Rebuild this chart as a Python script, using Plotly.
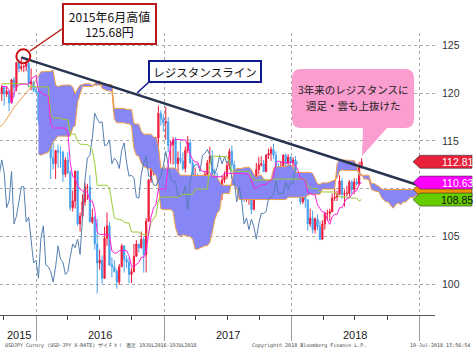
import pandas as pd
import plotly.graph_objects as go

# ---------------- data (USD/JPY weekly) ----------------
candle_start = "2015-09-25"  # first weekly bar (week ending Friday)
opens = [120.0, 120.6, 119.9, 120.2, 119.0, 121.4, 120.6, 123.2, 122.6, 122.8, 122.8, 123.1, 121.0, 121.2, 120.3,
         120.2, 117.2, 117.0, 118.8, 121.1, 116.8, 113.2, 112.6, 114.0, 113.8, 113.8, 111.5, 113.0, 111.7, 108.0,
         108.7, 111.8, 106.3, 107.1, 108.6, 110.2, 110.2, 106.5, 107.0, 104.2, 102.2, 102.5, 100.6, 104.8, 106.1,
         102.0, 101.8, 101.3, 100.2, 101.8, 104.0, 102.6, 102.3, 101.0, 101.3, 102.9, 104.2, 103.8, 104.7, 103.1,
         106.6, 110.9, 113.2, 113.5, 115.3, 117.9, 117.3,
         116.9, 117.0, 114.5, 114.6, 115.1, 112.6, 113.2, 112.9, 112.1, 114.0, 114.8, 112.7, 111.3, 111.4, 111.1,
         109.1, 109.0, 111.5, 112.7, 113.4, 111.3, 111.3, 110.4, 110.3, 110.9, 111.3, 112.4, 113.9, 112.5, 111.1,
         110.7, 110.7, 109.2, 109.2, 109.4, 110.3, 107.8, 110.8, 112.0, 112.5, 112.6, 111.8, 113.5, 113.7, 114.1,
         113.5, 112.1, 111.5, 112.2, 113.5, 112.6, 113.3,
         112.7, 113.0, 111.0, 110.8, 108.6, 110.2, 108.8, 106.3, 106.9, 105.7, 106.8, 106.0, 104.7, 106.3, 107.4,
         107.4, 107.6, 109.0, 109.1, 109.4, 110.8, 109.4, 109.5, 109.5, 110.7, 109.9, 110.7, 110.5, 112.4]
highs = [120.9, 120.6, 120.7, 120.3, 121.5, 121.7, 123.3, 123.6, 123.8, 123.0, 123.7, 123.3, 122.6, 121.3, 120.7,
         120.4, 118.3, 118.9, 121.7, 121.1, 117.7, 114.9, 114.0, 114.6, 114.4, 114.0, 113.3, 113.8, 111.9, 109.8,
         111.9, 111.9, 107.5, 109.4, 110.6, 110.5, 111.4, 107.9, 107.1, 106.8, 103.6, 103.0, 106.0, 107.5, 106.5,
         102.8, 102.5, 101.6, 102.1, 104.2, 104.0, 103.0, 102.8, 101.7, 104.2, 104.6, 104.2, 105.5, 105.0, 106.9,
         111.0, 113.9, 114.8, 115.4, 118.7, 118.2, 117.8,
         118.6, 117.5, 115.0, 115.4, 115.4, 113.9, 114.9, 113.8, 114.4, 115.5, 115.2, 113.0, 112.2, 111.6, 111.3,
         109.6, 111.8, 113.0, 114.4, 114.0, 112.1, 111.7, 110.7, 111.4, 111.8, 112.9, 114.2, 114.5, 112.9, 111.9,
         111.0, 110.9, 110.9, 109.8, 110.7, 110.3, 111.0, 112.7, 113.3, 113.4, 113.0, 113.6, 114.2, 114.4, 114.7,
         113.9, 112.7, 112.9, 113.6, 113.7, 113.6, 113.4,
         113.3, 113.4, 111.3, 111.2, 110.5, 110.5, 108.9, 107.9, 107.7, 107.0, 107.3, 106.6, 106.7, 107.5, 107.8,
         107.9, 109.5, 110.0, 109.8, 111.4, 111.1, 109.9, 110.3, 110.9, 110.9, 111.1, 111.1, 112.8, 113.2]
lows = [119.2, 118.7, 119.6, 118.1, 119.0, 119.6, 120.2, 122.2, 122.3, 122.2, 122.3, 120.6, 120.3, 120.1, 119.9,
        116.7, 116.5, 116.0, 118.2, 116.5, 111.0, 112.0, 111.0, 112.2, 112.2, 110.7, 111.2, 111.5, 107.7, 107.6,
        107.9, 106.1, 105.5, 106.9, 108.2, 108.8, 106.5, 106.3, 103.6, 99.0, 101.5, 100.0, 100.6, 104.0, 101.9,
        100.7, 101.2, 99.5, 99.9, 101.8, 101.2, 101.7, 100.1, 100.1, 101.2, 102.9, 103.3, 103.7, 101.2, 101.2,
        106.5, 110.6, 111.4, 112.9, 113.9, 116.6, 116.0,
        115.1, 113.8, 112.6, 112.5, 111.6, 111.6, 112.6, 111.9, 111.7, 113.7, 112.6, 110.6, 110.1, 110.1, 108.7,
        108.1, 109.0, 111.0, 112.6, 110.2, 110.8, 110.3, 109.1, 108.8, 110.6, 111.0, 112.0, 112.1, 110.9, 110.6,
        109.9, 108.7, 108.6, 108.6, 108.3, 107.3, 107.8, 110.7, 111.5, 112.3, 111.7, 111.7, 113.1, 112.9, 113.1,
        111.9, 111.1, 110.8, 112.0, 112.0, 112.6, 112.5,
        112.1, 110.9, 110.2, 108.3, 108.4, 108.0, 105.6, 106.0, 105.3, 105.3, 105.6, 104.6, 104.6, 105.7, 106.6,
        106.6, 107.5, 108.7, 108.7, 109.3, 108.9, 108.1, 109.2, 109.2, 109.4, 109.4, 110.3, 110.3, 112.1]
closes = [120.6, 119.9, 120.2, 119.0, 121.4, 120.6, 123.2, 122.6, 122.8, 122.8, 123.1, 121.0, 121.2, 120.3, 120.2,
          117.2, 117.0, 118.8, 121.1, 116.8, 113.2, 112.6, 114.0, 113.8, 113.8, 111.5, 113.0, 111.7, 108.0, 108.7,
          111.8, 106.3, 107.1, 108.6, 110.2, 110.2, 106.5, 107.0, 104.2, 102.2, 102.5, 100.6, 104.8, 106.1, 102.0,
          101.8, 101.3, 100.2, 101.8, 104.0, 102.6, 102.3, 101.0, 101.3, 102.9, 104.2, 103.8, 104.7, 103.1, 106.6,
          110.9, 113.2, 113.5, 115.3, 117.9, 117.3, 116.9,
          117.0, 114.5, 114.6, 115.1, 112.6, 113.2, 112.9, 112.1, 114.0, 114.8, 112.7, 111.3, 111.4, 111.1, 109.1,
          109.0, 111.5, 112.7, 113.4, 111.3, 111.3, 110.4, 110.3, 110.9, 111.3, 112.4, 113.9, 112.5, 111.1, 110.7,
          110.7, 109.2, 109.2, 109.4, 110.3, 107.8, 110.8, 112.0, 112.5, 112.6, 111.8, 113.5, 113.7, 114.1, 113.5,
          112.1, 111.5, 112.2, 113.5, 112.6, 113.3, 112.7,
          113.0, 111.0, 110.8, 108.6, 110.2, 108.8, 106.3, 106.9, 105.7, 106.8, 106.0, 104.7, 106.3, 107.4, 107.4,
          107.6, 109.0, 109.1, 109.4, 110.8, 109.4, 109.5, 109.5, 110.7, 109.9, 110.7, 110.5, 112.4, 112.81]
tenkan = [120.7, 120.7, 120.7, 120.3, 118.9, 119.9, 120.7, 120.85, 120.95, 120.95, 120.95, 120.95, 121.4, 121.7, 121.85,
          120.25, 120.15, 119.85, 119.85, 119.65, 116.8, 116.35, 116.35, 116.35, 116.35, 116.35, 116.35, 115.9, 112.7,
          111.25, 111.1, 110.35, 109.95, 109.75, 109.65, 109.65, 108.7, 108.7, 107.75, 105.45, 105.2, 105.2, 105.2,
          105.2, 105.2, 103.45, 103.25, 103.25, 103.5, 103.5, 103.5, 103.5, 103.0, 101.85, 101.85, 102.05, 102.25,
          102.8, 102.8, 103.5, 105.55, 107.0, 108.0, 108.3, 109.95, 109.95, 109.95,
          109.95, 112.6, 114.65, 115.05, 115.15, 115.15, 115.1, 115.1, 115.1, 114.55, 113.55, 113.05, 112.8, 112.8,
          112.1, 111.8, 111.8, 111.8, 111.65, 111.25, 111.25, 111.25, 111.25, 111.25, 111.6, 111.6, 111.6, 111.65,
          111.65, 111.65, 111.65, 111.6, 111.55, 111.55, 111.4, 110.9, 110.1, 110.0, 110.3, 110.35, 110.35, 110.45,
          110.75, 110.85, 111.25, 112.7, 112.9, 112.75, 112.75, 112.75, 112.75, 112.75,
          112.75, 112.35, 111.95, 111.0, 111.0, 110.85, 109.6, 109.5, 109.35, 109.35, 108.3, 107.9, 107.55, 107.55,
          106.75, 106.25, 107.05, 107.3, 107.3, 108.0, 108.0, 108.55, 109.0, 109.0, 109.45, 109.75, 109.75, 110.45,
          110.63]
kijun = [121.0, 121.0, 121.0, 121.0, 121.0, 121.0, 121.0, 121.0, 121.0, 121.0, 121.0, 120.7, 120.7, 120.7, 120.7,
         120.7, 120.7, 120.65, 120.65, 120.65, 117.75, 117.4, 117.4, 117.4, 117.4, 117.25, 117.25, 117.25, 115.75,
         115.7, 115.7, 114.95, 114.65, 114.65, 114.6, 114.6, 114.4, 114.05, 112.65, 110.35, 110.35, 110.35, 110.35,
         110.35, 110.05, 108.35, 106.95, 106.8, 106.8, 106.7, 106.5, 106.4, 106.4, 105.45, 105.45, 105.45, 105.45,
         105.2, 105.2, 105.2, 105.2, 106.45, 106.9, 107.2, 108.85, 109.1, 109.1,
         109.1, 109.1, 109.1, 109.1, 109.1, 109.1, 109.3, 109.4, 109.4, 109.4, 109.4, 109.4, 109.95, 109.95, 109.95,
         109.95, 109.95, 109.95, 112.6, 113.4, 113.4, 113.4, 113.4, 113.35, 113.35, 113.35, 112.8, 111.8, 111.8,
         111.8, 111.8, 111.8, 111.8, 111.8, 111.8, 111.25, 110.9, 110.9, 110.9, 110.9, 110.9, 110.9, 110.9, 110.9,
         111.0, 111.0, 111.0, 111.0, 111.0, 111.0, 111.0,
         111.0, 111.0, 111.0, 111.0, 111.0, 111.0, 111.0, 110.15, 110.15, 110.0, 110.0, 110.0, 109.65, 109.65,
         109.65, 109.65, 109.65, 109.65, 109.65, 109.25, 109.15, 109.15, 109.15, 109.15, 109.1, 109.0, 109.0, 109.0,
         108.7, 108.85]
# leading span A: values before the first bar's lead (read directly), then values led 26 weeks
span_a_early = [116.5, 116.6, 116.9, 117.3, 117.8, 118.2, 118.5, 118.8, 119.1, 119.4, 119.8, 120.1, 120.4, 120.7,
                121.0, 121.4, 121.8, 122.25, 122.25, 122.25, 122.3, 122.3, 122.4, 120.85, 120.7, 120.8, 120.85]
span_a_lead = [120.85, 120.85, 120.85, 120.65, 119.95, 120.45, 120.85, 120.9, 121.0, 121.0, 121.0, 120.8, 121.05,
               121.2, 121.3, 120.5, 120.4, 120.25, 120.25, 120.15, 117.3, 116.9, 116.9, 116.9, 116.9, 116.8, 116.8,
               116.6, 114.2, 113.5, 113.4, 112.65, 112.3, 112.2, 112.1, 112.1, 111.55, 111.4, 110.2, 107.9, 107.8,
               107.8, 107.8, 107.8, 107.6, 105.9, 105.1, 105.0, 105.15, 105.1, 105.0, 104.95, 104.7, 103.65, 103.65,
               103.75, 103.85, 104.0, 104.0, 104.35, 105.4, 106.7, 107.45, 107.75, 109.4, 109.5, 109.5,
               109.5, 110.85, 111.9, 112.1, 112.1, 112.1, 112.2, 112.25, 112.25, 112.0, 111.5, 111.2, 111.4, 111.4,
               111.0, 110.9, 110.9, 110.9, 112.1, 112.3, 112.3, 112.3, 112.3, 112.3, 112.5, 112.5, 112.2, 111.7,
               111.7, 111.7, 111.7, 111.7, 111.7, 111.7, 111.6, 111.1, 110.5, 110.45, 110.6, 110.6, 110.6, 110.7,
               110.8, 110.9, 111.1, 111.85, 111.95, 111.9, 111.9, 111.9, 111.9, 111.9,
               111.9, 111.7, 111.5, 111.0, 111.0, 110.9, 109.9, 109.8, 109.7, 109.7, 109.15, 108.8, 108.6, 108.6,
               108.2, 107.95, 108.35, 108.5, 108.3, 108.6, 108.6, 108.85, 109.1, 109.05, 109.2, 109.4, 109.4, 109.6,
               109.8]
span_b_early = [113.6, 113.5, 113.6, 113.7, 113.8, 114.3, 114.9, 115.2, 115.5, 115.5, 115.5]
span_b_lead = [115.5, 115.5, 115.5, 116.4, 116.6, 119.1, 119.9, 120.7, 120.7, 120.7, 120.7, 120.7, 120.85, 120.85,
               120.85, 120.85, 121.0, 120.9, 120.9, 120.9, 118.4, 118.4, 118.4, 118.4, 118.4, 118.3, 118.3, 118.3,
               116.8, 116.75, 116.75, 116.0, 115.7, 115.7, 115.7, 115.7, 115.4, 115.4, 114.45, 112.15, 112.15,
               112.15, 112.15, 112.15, 112.15, 112.15, 111.75, 111.4, 111.4, 111.4, 111.4, 111.4, 111.4, 111.4,
               111.4, 111.4, 111.4, 111.4, 111.4, 111.4, 111.35, 111.35, 111.15, 110.8, 110.35, 110.35, 110.35,
               110.35, 110.35, 110.35, 110.05, 108.85, 108.85, 108.85, 108.85, 108.85, 108.85, 108.85, 108.85,
               108.85, 108.85, 108.85, 108.85, 108.85, 108.85, 108.85, 108.85, 108.85, 108.85, 108.85, 108.85,
               109.1, 109.1, 109.1, 109.1, 109.1, 109.1, 109.1, 109.1, 109.3, 109.4, 109.4, 109.4, 109.4, 109.4,
               109.95, 109.95, 109.95, 109.95, 109.95, 109.95, 112.6, 113.0, 113.0, 113.0, 113.0, 112.95, 112.95,
               112.95, 112.4, 111.4, 111.4, 111.4, 111.4, 111.4, 110.55, 110.55, 110.4, 110.25, 110.0,
               109.9, 109.9, 109.9, 109.9, 109.9, 109.9, 109.9, 109.9, 109.9, 109.9, 109.9, 109.9, 109.9, 109.9,
               109.9, 109.9, 109.9, 109.9]
span_start = "2015-09-18"
resistance_dates = ["2015-11-20", "2019-01-03"]
resistance_values = [123.76, 110.3]
year_labels = ["2015", "2016", "2017", "2018"]
year_label_dates = ["2015-11-14", "2016-07-01", "2017-07-02", "2018-07-01"]
year_starts = ["2016-01-01", "2017-01-01", "2018-01-01", "2019-01-01"]
quarter_ticks = ["2015-10-01", "2016-04-01", "2016-07-01", "2016-10-01", "2017-04-01", "2017-07-01",
                 "2017-10-01", "2018-04-01", "2018-07-01", "2018-10-01"]
y_ticks = [100, 105, 110, 115, 120, 125]
y_ticktext = ["100", "105", "", "115", "120", "125"]

# ---------------- geometry / style ----------------
W, H = 474, 351
ML, MR, MT, MB = 0, 39, 33, 36
PW, PH = W - ML - MR, H - MT - MB


def px(x):
    return (x - ML) / PW


def py(y):
    return (H - MB - y) / PH


RED = "#ee1c3c"
BLUE = "#4aa2ee"
CLOUD = "rgb(134,134,246)"
ORANGE = "#f0a048"
GREEN = "#99cc33"
MAGENTA = "#ff22dd"
STEEL = "#557fb2"
NAVY = "#26344f"
JP = "Noto Sans CJK JP"
NUM = "Liberation Sans"

dates = pd.date_range(candle_start, periods=len(closes), freq="7D")
lag_dates = dates - pd.Timedelta(weeks=26)
span_a = span_a_early + span_a_lead
span_b = span_b_early + span_b_lead
span_dates = pd.date_range(span_start, periods=len(span_a), freq="7D")
k = len(span_a) - len(span_b)
b_dates = span_dates[k:]

fig = go.Figure()
fig.add_trace(go.Scatter(x=b_dates, y=span_b, mode="lines", line=dict(color=ORANGE, width=1), hoverinfo="skip"))
fig.add_trace(go.Scatter(x=b_dates, y=span_a[k:], mode="lines", line=dict(color=ORANGE, width=1),
                         fill="tonexty", fillcolor=CLOUD, hoverinfo="skip"))
fig.add_trace(go.Scatter(x=span_dates[:k + 1], y=span_a[:k + 1], mode="lines",
                         line=dict(color=ORANGE, width=1), hoverinfo="skip"))
fig.add_trace(go.Candlestick(x=dates, open=opens, high=highs, low=lows, close=closes,
                             increasing=dict(line=dict(color=RED, width=1), fillcolor=RED),
                             decreasing=dict(line=dict(color=BLUE, width=1), fillcolor=BLUE),
                             whiskerwidth=0))
fig.add_trace(go.Scatter(x=lag_dates, y=closes, mode="lines", line=dict(color=STEEL, width=1)))
fig.add_trace(go.Scatter(x=dates, y=kijun, mode="lines", line=dict(color=GREEN, width=1)))
fig.add_trace(go.Scatter(x=dates, y=tenkan, mode="lines", line=dict(color=MAGENTA, width=1)))
fig.add_trace(go.Scatter(x=resistance_dates, y=resistance_values, mode="lines",
                         line=dict(color=NAVY, width=2.5)))

shapes = []
# red circle at the high
shapes.append(dict(type="circle", xref="x", yref="y", xsizemode="pixel", ysizemode="pixel",
                   xanchor=resistance_dates[0], yanchor=resistance_values[0],
                   x0=-5, x1=9, y0=-6, y1=8, line=dict(color="#cc1010", width=2)))
# connector lines of the two boxes
shapes.append(dict(type="line", xref="paper", yref="paper", x0=px(62), y0=py(29), x1=px(30), y1=py(51),
                   line=dict(color="#b81818", width=1.5)))
shapes.append(dict(type="line", xref="paper", yref="paper", x0=px(149), y0=py(82), x1=px(137), y1=py(93),
                   line=dict(color="#101a8c", width=1.5)))
# pink speech bubble
x0, x1, yt, yb = px(292), px(414), py(69), py(128)
rx, ry = 9 / PW, 9 / PH
tl, tr, tipx, tipy = px(363), px(387), px(362), py(156)
path = (f"M {x0+rx},{yt} L {x1-rx},{yt} Q {x1},{yt} {x1},{yt-ry} L {x1},{yb+ry} Q {x1},{yb} {x1-rx},{yb} "
        f"L {tr},{yb} L {tipx},{tipy} L {tl},{yb} L {x0+rx},{yb} Q {x0},{yb} {x0},{yb+ry} "
        f"L {x0},{yt-ry} Q {x0},{yt} {x0+rx},{yt} Z")
shapes.append(dict(type="path", xref="paper", yref="paper", path=path, fillcolor="#fa9dcf",
                   line=dict(width=0)))

# price tags on the right
tags = [(span_b[-1], "#f39200", None, "#222"),
        (closes[-1], "#e8203a", f"{closes[-1]:.2f}", "white"),
        (tenkan[-1], "#ff00ff", f"{tenkan[-1]:.2f}", "white"),
        (kijun[-1], "#66cc00", f"{kijun[-1]:.2f}", "#111")]
tag_path = "M -22,0 L -15,6.5 L 37,6.5 L 37,-6.5 L -15,-6.5 Z"
annotations = []
for val, col, txt, tcol in tags:
    shapes.append(dict(type="path", xref="paper", yref="y", xsizemode="pixel", ysizemode="pixel",
                       xanchor=1, yanchor=val, path=tag_path, fillcolor=col,
                       line=dict(color="#333333", width=0.6)))
    if txt:
        annotations.append(dict(x=1, xref="paper", y=val, yref="y", text=txt, showarrow=False,
                                xanchor="center", yanchor="middle", xshift=22,
                                font=dict(family=NUM, size=10.5, color=tcol)))

# text boxes
annotations.append(dict(x=px(109.5), y=py(24), xref="paper", yref="paper", showarrow=False,
                        text="2015年6月高値<br>125.68円", align="center",
                        font=dict(family=JP, size=12, color="#111"),
                        bgcolor="white", bordercolor="#b81818", borderwidth=2, borderpad=1,
                        width=89, height=36, xanchor="center", yanchor="middle"))
annotations.append(dict(x=px(205), y=py(71.5), xref="paper", yref="paper", showarrow=False,
                        text="レジスタンスライン", align="center",
                        font=dict(family=JP, size=11.5, color="#111"),
                        bgcolor="white", bordercolor="#101a8c", borderwidth=2, borderpad=1,
                        width=108, height=17, xanchor="center", yanchor="middle"))
callout_lines = ["3年来のレジスタンスに", "週足・雲も上抜けた"]
for line_txt, ly in zip(callout_lines, [89.5, 105.5]):
    annotations.append(dict(x=px(353), y=py(ly), xref="paper", yref="paper", showarrow=False,
                            text=line_txt, align="center",
                            font=dict(family=JP, size=10.5, color="#222"),
                            xanchor="center", yanchor="middle"))
# year labels
for lab, d in zip(year_labels, year_label_dates):
    annotations.append(dict(x=d, xref="x", y=0, yref="paper", yshift=-20, text=lab, showarrow=False,
                            xanchor="center", yanchor="middle",
                            font=dict(family=NUM, size=11, color="#222")))
# footer
foot = dict(family="DejaVu Sans Mono", size=5, color="#444")
annotations.append(dict(x=px(3), xref="paper", y=0, yref="paper", yshift=-30, showarrow=False,
                        xanchor="left", yanchor="middle", font=foot,
                        text="USDJPY Curncy (USD-JPY X-RATE) ザイＦＸ！ 週足 19JUL2016-19JUL2018"))
annotations.append(dict(x=px(250), xref="paper", y=0, yref="paper", yshift=-30, showarrow=False,
                        xanchor="left", yanchor="middle", font=foot,
                        text="Copyright© 2018 Bloomberg Finance L.P."))
annotations.append(dict(x=px(472), xref="paper", y=0, yref="paper", yshift=-30, showarrow=False,
                        xanchor="right", yanchor="middle", font=foot,
                        text="19-Jul-2018 15:56:54"))

fig.update_layout(
    width=W, height=H, margin=dict(l=ML, r=MR, t=MT, b=MB, pad=0),
    paper_bgcolor="white", plot_bgcolor="white", showlegend=False,
    shapes=shapes, annotations=annotations,
    xaxis=dict(type="date", range=["2015-09-20", "2019-02-15"], tickmode="array", tickvals=year_starts,
               showticklabels=False, ticks="outside", ticklen=25, tickcolor="#9a9a9a", tickwidth=1,
               showgrid=True, gridcolor="#a8a8a8", griddash="dot", gridwidth=1,
               showline=True, linecolor="#555555", linewidth=1, zeroline=False,
               rangeslider=dict(visible=False),
               minor=dict(tickmode="array", tickvals=quarter_ticks, ticks="outside", ticklen=4,
                          tickcolor="#444444", showgrid=False)),
    yaxis=dict(range=[96.75, 126.31], side="right", tickmode="array", tickvals=y_ticks,
               ticktext=y_ticktext, ticks="", showgrid=True, gridcolor="#a8a8a8", griddash="dot",
               gridwidth=1, zeroline=False, showline=False, ticklabelstandoff=6,
               tickfont=dict(family=NUM, size=10.5, color="#333")),
)

fig.write_html("out.html")
